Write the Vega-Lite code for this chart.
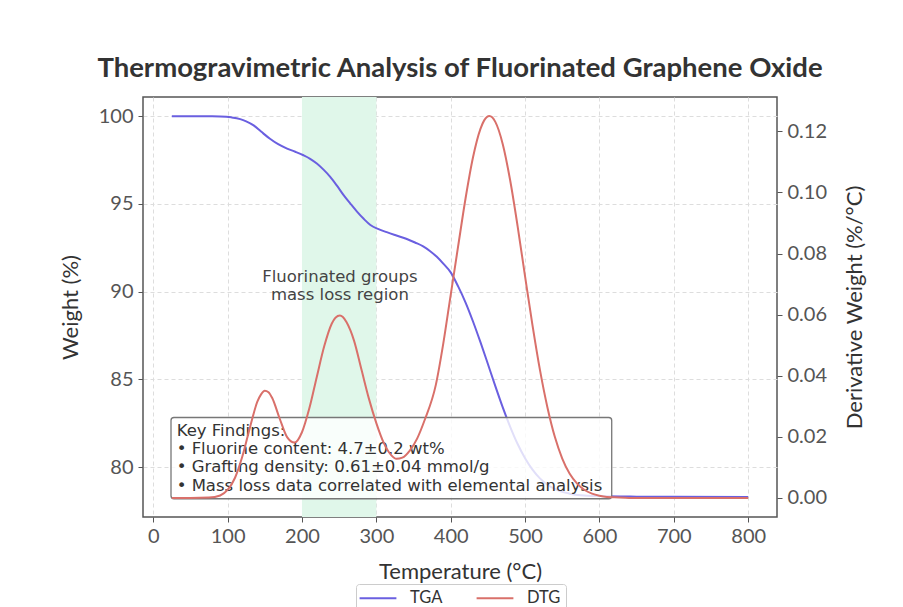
{
  "$schema": "https://vega.github.io/schema/vega-lite/v6.json",
  "autosize": {"type": "none"},
  "width": 634,
  "height": 420,
  "padding": {"left": 143, "top": 97, "right": 126, "bottom": 90},
  "background": "white",
  "title": {
    "text": "Thermogravimetric Analysis of Fluorinated Graphene Oxide",
    "font": "Lato",
    "fontSize": 27.5,
    "fontWeight": "bold",
    "color": "#333333",
    "anchor": "middle",
    "offset": 15
  },
  "config": {
    "font": "Lato",
    "view": {"stroke": "#555555", "strokeWidth": 1.5},
    "axis": {
      "labelFont": "Lato",
      "labelFontSize": 20,
      "labelColor": "#555555",
      "titleFont": "Lato",
      "titleFontSize": 22,
      "titleFontWeight": "normal",
      "titleColor": "#333333",
      "tickColor": "#555555",
      "tickSize": 5,
      "domain": false,
      "gridColor": "#dddddd",
      "gridDash": [4, 3],
      "gridWidth": 1
    }
  },
  "datasets": {
    "band": [{"start": 200, "end": 300}],
    "tga": [
      {"T": 25, "W": 100.0}, {"T": 50, "W": 100.0}, {"T": 75, "W": 99.99}, {"T": 90, "W": 99.98},
      {"T": 105, "W": 99.93}, {"T": 117, "W": 99.83}, {"T": 125, "W": 99.7}, {"T": 135, "W": 99.47},
      {"T": 145, "W": 99.12}, {"T": 157, "W": 98.71}, {"T": 168, "W": 98.4}, {"T": 180, "W": 98.15},
      {"T": 191, "W": 97.97}, {"T": 202, "W": 97.77}, {"T": 211, "W": 97.57}, {"T": 220, "W": 97.3},
      {"T": 229, "W": 96.95}, {"T": 238, "W": 96.54}, {"T": 247, "W": 96.04}, {"T": 256, "W": 95.5},
      {"T": 265, "W": 95.02}, {"T": 274, "W": 94.56}, {"T": 283, "W": 94.15}, {"T": 292, "W": 93.8},
      {"T": 303, "W": 93.56}, {"T": 314, "W": 93.39}, {"T": 327, "W": 93.2}, {"T": 341, "W": 93.0},
      {"T": 352, "W": 92.8}, {"T": 363, "W": 92.58}, {"T": 372, "W": 92.32}, {"T": 381, "W": 92.0},
      {"T": 390, "W": 91.6}, {"T": 400, "W": 91.1}, {"T": 410, "W": 90.3}, {"T": 420, "W": 89.38},
      {"T": 430, "W": 88.3}, {"T": 440, "W": 87.12}, {"T": 450, "W": 85.88}, {"T": 460, "W": 84.62},
      {"T": 470, "W": 83.41}, {"T": 480, "W": 82.3}, {"T": 490, "W": 81.32}, {"T": 500, "W": 80.51},
      {"T": 510, "W": 79.86}, {"T": 520, "W": 79.36}, {"T": 530, "W": 79.0}, {"T": 540, "W": 78.76},
      {"T": 550, "W": 78.59}, {"T": 560, "W": 78.49}, {"T": 575, "W": 78.4}, {"T": 600, "W": 78.35},
      {"T": 650, "W": 78.32}, {"T": 700, "W": 78.31}, {"T": 800, "W": 78.3}
    ],
    "dtg": [
      {"T": 25, "D": 0}, {"T": 50, "D": 0}, {"T": 75, "D": 0.0001}, {"T": 90, "D": 0.0008},
      {"T": 100, "D": 0.0026}, {"T": 110, "D": 0.0066}, {"T": 120, "D": 0.0137}, {"T": 130, "D": 0.023},
      {"T": 140, "D": 0.0315}, {"T": 145, "D": 0.0339}, {"T": 150, "D": 0.0351}, {"T": 155, "D": 0.0346},
      {"T": 160, "D": 0.0327}, {"T": 170, "D": 0.026}, {"T": 180, "D": 0.0199}, {"T": 190, "D": 0.0181},
      {"T": 200, "D": 0.0215}, {"T": 210, "D": 0.0294}, {"T": 220, "D": 0.0397}, {"T": 230, "D": 0.0497},
      {"T": 240, "D": 0.057}, {"T": 245, "D": 0.059}, {"T": 251, "D": 0.0597}, {"T": 255, "D": 0.0592},
      {"T": 260, "D": 0.0575}, {"T": 270, "D": 0.0515}, {"T": 280, "D": 0.042}, {"T": 290, "D": 0.0325},
      {"T": 300, "D": 0.0245}, {"T": 310, "D": 0.018}, {"T": 320, "D": 0.014}, {"T": 327, "D": 0.0128},
      {"T": 335, "D": 0.0132}, {"T": 345, "D": 0.0155}, {"T": 355, "D": 0.0195}, {"T": 365, "D": 0.0255},
      {"T": 380, "D": 0.037}, {"T": 390, "D": 0.0505}, {"T": 400, "D": 0.0665}, {"T": 410, "D": 0.0824},
      {"T": 420, "D": 0.0981}, {"T": 430, "D": 0.1115}, {"T": 440, "D": 0.1208}, {"T": 445, "D": 0.1236},
      {"T": 452, "D": 0.125}, {"T": 460, "D": 0.1231}, {"T": 470, "D": 0.1158}, {"T": 480, "D": 0.1039},
      {"T": 490, "D": 0.0889}, {"T": 500, "D": 0.0725}, {"T": 510, "D": 0.0565}, {"T": 520, "D": 0.0419},
      {"T": 530, "D": 0.0297}, {"T": 540, "D": 0.02}, {"T": 550, "D": 0.0129}, {"T": 560, "D": 0.0079},
      {"T": 570, "D": 0.0047}, {"T": 580, "D": 0.0026}, {"T": 590, "D": 0.0014}, {"T": 600, "D": 0.0007},
      {"T": 610, "D": 0.0003}, {"T": 620, "D": 0.0002}, {"T": 640, "D": 0}, {"T": 700, "D": 0}, {"T": 800, "D": 0}
    ],
    "note": [{"T": 251, "W": 90.84, "label": "Fluorinated groups\nmass loss region"}],
    "box": [{"x1": 23.9, "x2": 616.5, "y1": 82.83, "y2": 78.2}],
    "keytext": [{"T": 31.5, "W": 81.79, "label": "Key Findings:\n• Fluorine content: 4.7±0.2 wt%\n• Grafting density: 0.61±0.04 mmol/g\n• Mass loss data correlated with elemental analysis"}]
  },
  "layer": [
    {
      "layer": [
        {
          "data": {"name": "band"},
          "mark": {"type": "rect", "color": "#e0f7ea"},
          "encoding": {
            "x": {"field": "start", "type": "quantitative", "scale": {"domain": [-13.75, 838.75], "nice": false, "zero": false}},
            "x2": {"field": "end"}
          }
        },
        {
          "data": {"name": "tga"},
          "mark": {"type": "line", "strokeWidth": 2, "interpolate": "monotone"},
          "encoding": {
            "x": {
              "field": "T", "type": "quantitative",
              "scale": {"domain": [-13.75, 838.75], "nice": false, "zero": false},
              "axis": {"title": "Temperature (°C)", "values": [0, 100, 200, 300, 400, 500, 600, 700, 800], "grid": true, "labelPadding": 4, "titlePadding": 15}
            },
            "y": {
              "field": "W", "type": "quantitative",
              "scale": {"domain": [77.16, 101.09], "nice": false, "zero": false},
              "axis": {"title": "Weight (%)", "values": [80, 85, 90, 95, 100], "grid": true, "labelPadding": 5, "titlePadding": 16}
            },
            "color": {
              "datum": "TGA",
              "type": "nominal",
              "scale": {"domain": ["TGA", "DTG"], "range": ["#6a5fe0", "#d9706a"]},
              "legend": {
                "title": null,
                "orient": "none",
                "direction": "horizontal",
                "legendX": 213,
                "legendY": 487,
                "symbolType": "M-2.3,0L2.3,0",
                "symbolSize": 256,
                "symbolStrokeWidth": 2,
                "symbolOffset": 8,
                "labelFont": "Lato",
                "labelFontSize": 16.5,
                "labelColor": "#333333",
                "labelOffset": 23,
                "columnPadding": 29,
                "padding": 5,
                "strokeColor": "#cccccc",
                "fillColor": "white",
                "cornerRadius": 3
              }
            }
          }
        },
        {
          "data": {"name": "note"},
          "mark": {"type": "text", "font": "DejaVu Sans", "fontSize": 16.5, "color": "#444444", "align": "center", "baseline": "middle", "lineBreak": "\n", "lineHeight": 18},
          "encoding": {
            "x": {"field": "T", "type": "quantitative"},
            "y": {"field": "W", "type": "quantitative"},
            "text": {"field": "label"}
          }
        },
        {
          "data": {"name": "box"},
          "mark": {"type": "rect", "fill": "white", "fillOpacity": 0.8, "stroke": "#777777", "strokeWidth": 1.3, "cornerRadius": 3},
          "encoding": {
            "x": {"field": "x1", "type": "quantitative"},
            "x2": {"field": "x2"},
            "y": {"field": "y1", "type": "quantitative"},
            "y2": {"field": "y2"}
          }
        },
        {
          "data": {"name": "keytext"},
          "mark": {"type": "text", "font": "DejaVu Sans", "fontSize": 16.5, "color": "#333333", "align": "left", "baseline": "alphabetic", "lineBreak": "\n", "lineHeight": 18.3},
          "encoding": {
            "x": {"field": "T", "type": "quantitative"},
            "y": {"field": "W", "type": "quantitative"},
            "text": {"field": "label"}
          }
        }
      ]
    },
    {
      "data": {"name": "dtg"},
      "mark": {"type": "line", "strokeWidth": 2, "interpolate": "monotone"},
      "encoding": {
        "x": {"field": "T", "type": "quantitative"},
        "y": {
          "field": "D", "type": "quantitative",
          "scale": {"domain": [-0.00625, 0.13125], "nice": false, "zero": false},
          "axis": {"title": "Derivative Weight (%/°C)", "orient": "right", "values": [0, 0.02, 0.04, 0.06, 0.08, 0.1, 0.12], "format": ".2f", "grid": false, "labelPadding": 5, "titlePadding": 18, "titleAngle": 270, "titleBaseline": "top"}
        },
        "color": {"datum": "DTG", "type": "nominal"}
      }
    }
  ],
  "resolve": {"scale": {"y": "independent"}}
}
